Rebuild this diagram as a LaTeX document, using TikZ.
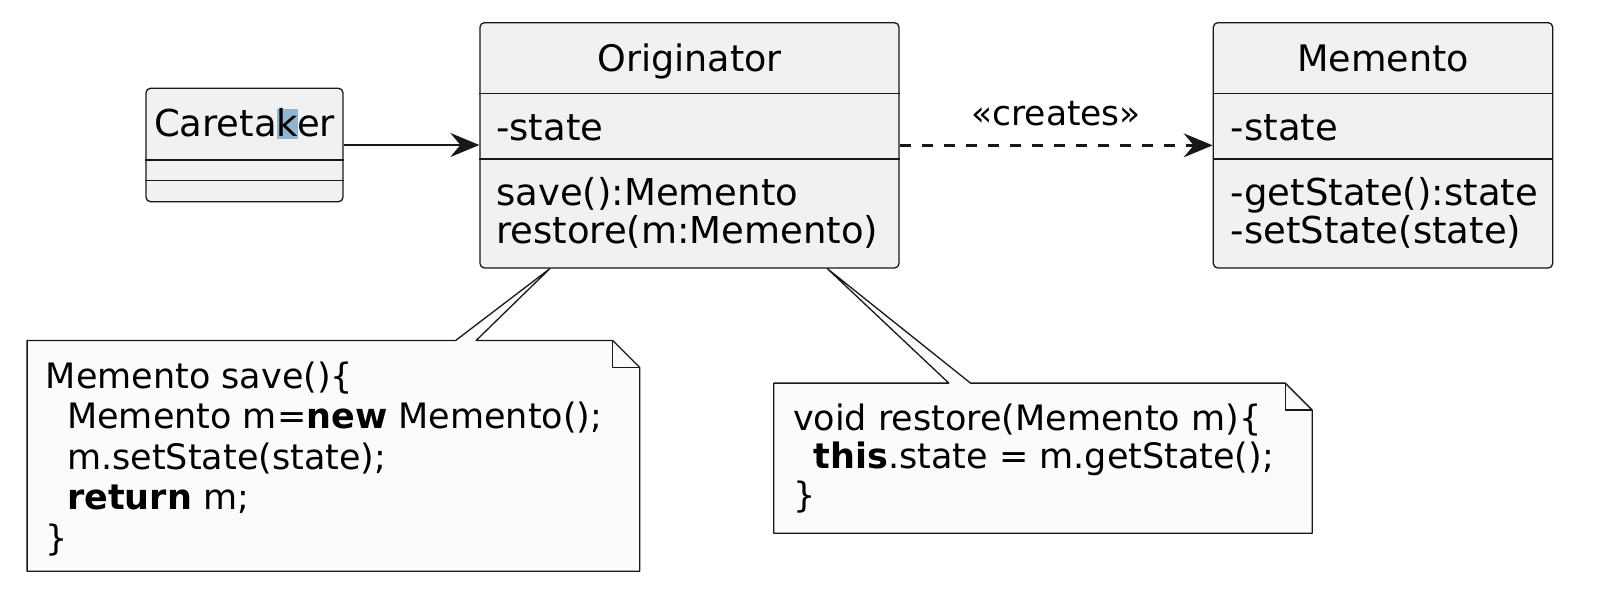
\documentclass[tikz,border=0pt]{standalone}
\usepackage{fontspec}
\setmainfont{DejaVu Sans}
\usetikzlibrary{arrows.meta,calc}
\definecolor{classbg}{HTML}{F1F1F1}
\definecolor{notebg}{HTML}{FBFBFB}
\definecolor{edge}{HTML}{181818}
\definecolor{kmark}{HTML}{92B4CD}
\newcommand\markk[1]{\setbox0\hbox{#1}\rlap{\color{kmark}\rule[-0.065em]{\wd0}{0.805em}}#1}
\begin{document}
\begin{tikzpicture}[x=1pt, y=-1pt, line join=round,
    >={Stealth[length=29pt, width=24pt, inset=10pt]},
    classbox/.style={rectangle, draw=edge, fill=classbg, line width=1.3pt, rounded corners=4.5pt, inner sep=0pt},
    titletxt/.style={anchor=base, inner sep=0pt, font=\fontsize{36.5}{40}\selectfont},
    membertxt/.style={anchor=base west, inner sep=0pt, font=\fontsize{37}{40}\selectfont},
    notetxt/.style={anchor=base west, inner sep=0pt, font=\fontsize{35}{39}\selectfont},
    notebox/.style={rectangle, inner sep=0pt},
    noteline/.style={draw=edge, fill=notebg, line width=1.3pt},
    rel/.style={draw=edge, line width=2.4pt}]
  \useasboundingbox (0,0) rectangle (1607,600);
  % classes
  \node[classbox, minimum width=197pt, minimum height=113.4pt] (care) at (244.5,145) {};
  \node[classbox, minimum width=419pt, minimum height=245.3pt] (orig) at (689.5,145.35) {};
  \node[classbox, minimum width=339.4pt, minimum height=245.3pt] (mem) at (1383,145.35) {};
  \foreach \c/\y in {care/160, care/180.7, orig/93.3, orig/159, mem/93.3, mem/159}
    \draw[edge, line width=1.3pt] (\c.west |- 0,\y) -- (\c.east |- 0,\y);
  \node[titletxt, font=\fontsize{37}{40}\selectfont] (careT) at (244.5,136.7) {Careta\markk{k}er};
  \node[titletxt] (origT) at (orig.center |- 0,71.7) {Originator};
  \node[titletxt] (memT) at (mem.center |- 0,71.7) {Memento};
  \node[membertxt] (origA) at (496,140) {-state};
  \node[membertxt] (origM1) at (496,205) {save():Memento};
  \node[membertxt] (origM2) at (496,243.3) {restore(m:Memento)};
  \node[membertxt] (memA) at (1230.7,140) {-state};
  \node[membertxt] (memM1) at (1230.7,205) {-getState():state};
  \node[membertxt] (memM2) at (1230.7,243.3) {-setState(state)};
  % relations
  \draw[rel, ->] (care.east) -- (care.east -| orig.west);
  \draw[rel, ->, dash pattern=on 11pt off 11pt] (orig.east) -- (mem.west)
    node[midway, anchor=base, yshift=20pt, inner sep=0pt, font=\fontsize{34.5}{39}\selectfont] (creates) {«creates»};
  % notes
  \node[notebox, minimum width=612.3pt, minimum height=230.3pt] (nsave) at (333.45,455.85) {};
  \node[notebox, minimum width=538pt, minimum height=149.7pt] (nrest) at (1043,458.15) {};
  \path (orig.south west) ++(70.5,0) coordinate (tipS) ++(277.5,0) coordinate (tipR);
  \draw[noteline] (nsave.north west) -- ++(428.5,0) -- (tipS) -- ($(nsave.north west)+(449,0)$)
    -- ($(nsave.north east)+(-27,0)$) -- ++(27,27) -- (nsave.south east) -- (nsave.south west) -- cycle;
  \draw[edge, line width=1.3pt] ($(nsave.north east)+(-27,0)$) -- ++(0,27) -- ++(27,0);
  \draw[noteline] (nrest.north west) -- ++(175,0) -- (tipR) -- ($(nrest.north west)+(196.7,0)$)
    -- ($(nrest.north east)+(-27,0)$) -- ++(27,27) -- (nrest.south east) -- (nrest.south west) -- cycle;
  \draw[edge, line width=1.3pt] ($(nrest.north east)+(-27,0)$) -- ++(0,27) -- ++(27,0);
  \node[notetxt] (sv1) at (45.7,388) {Memento save()\{};
  \node[notetxt] (sv2) at (67,428.5) {Memento m=\textbf{new} Memento();};
  \node[notetxt] (sv3) at (67,469) {m.setState(state);};
  \node[notetxt] (sv4) at (67,509.5) {\textbf{return} m;};
  \node[notetxt] (sv5) at (45.7,550) {\}};
  \node[notetxt] (rs1) at (792.9,430) {void restore(Memento m)\{};
  \node[notetxt] (rs2) at (813.6,468.5) {\textbf{this}.state = m.getState();};
  \node[notetxt] (rs3) at (792.9,507) {\}};
\end{tikzpicture}
\end{document}
